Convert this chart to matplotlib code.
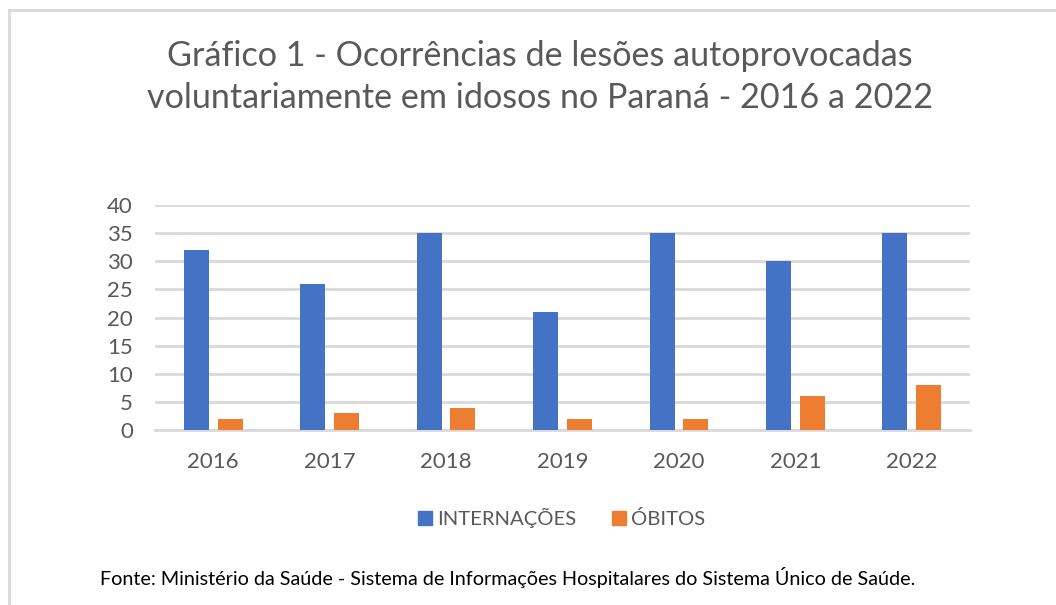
import matplotlib
matplotlib.use("Agg")
import matplotlib.pyplot as plt
import numpy as np
from matplotlib.lines import Line2D

anos = ["2016", "2017", "2018", "2019", "2020", "2021", "2022"]
internacoes = [32, 26, 35, 21, 35, 30, 35]
obitos = [2, 3, 4, 2, 2, 6, 8]

AZUL = "#4472C4"
LARANJA = "#ED7D31"
CINZA = "#595959"
GRADE = "#D9D9D9"

plt.rcParams["font.family"] = ["Lato", "DejaVu Sans"]

fig = plt.figure(figsize=(10.56, 6.05), dpi=100)
ax = fig.add_axes([155 / 1056, 1 - 430 / 605, 815 / 1056, 225 / 605])

x = np.arange(len(anos))
w = 0.215
ax.bar(x - 0.145, internacoes, w, color=AZUL, zorder=3)
ax.bar(x + 0.145, obitos, w, color=LARANJA, zorder=3)

ax.set_xlim(-0.5, len(anos) - 0.5)
ax.set_ylim(0, 40)
ax.set_yticks(range(0, 41, 5))
ax.set_xticks(x)
ax.set_xticklabels(anos)
ax.yaxis.grid(True, color=GRADE, linewidth=2, zorder=0)
for s in ["top", "right", "left"]:
    ax.spines[s].set_visible(False)
ax.spines["bottom"].set_color(GRADE)
ax.spines["bottom"].set_linewidth(2)
ax.tick_params(axis="both", length=0, colors=CINZA, labelsize=16)
ax.tick_params(axis="y", pad=16)
ax.tick_params(axis="x", pad=16)

fig.text(540 / 1056, 1 - 77 / 605,
         "Gráfico 1 - Ocorrências de lesões autoprovocadas\nvoluntariamente em idosos no Paraná - 2016 a 2022",
         ha="center", va="center", fontsize=24.6, color=CINZA, linespacing=1.35)

handles = [Line2D([], [], marker="s", linestyle="", color=AZUL, markersize=10),
           Line2D([], [], marker="s", linestyle="", color=LARANJA, markersize=10)]
fig.legend(handles, ["INTERNAÇÕES", "ÓBITOS"], loc="center",
           bbox_to_anchor=(560 / 1056, 1 - 518 / 605), ncol=2, frameon=False,
           fontsize=14.6, labelcolor=CINZA, handletextpad=0.1, columnspacing=1.6,
           handlelength=1.0)

fig.text(100 / 1056, 1 - 578 / 605,
         "Fonte: Ministério da Saúde - Sistema de Informações Hospitalares do Sistema Único de Saúde.",
         ha="left", va="center", fontsize=14.2, color="black")

# moldura (só topo e esquerda visíveis)
fig.add_artist(Line2D([9 / 1056, 1], [1 - 10 / 605, 1 - 10 / 605], color=GRADE, linewidth=2))
fig.add_artist(Line2D([9 / 1056, 9 / 1056], [0, 1 - 10 / 605], color=GRADE, linewidth=2))

fig.savefig("out.png", dpi=100)
